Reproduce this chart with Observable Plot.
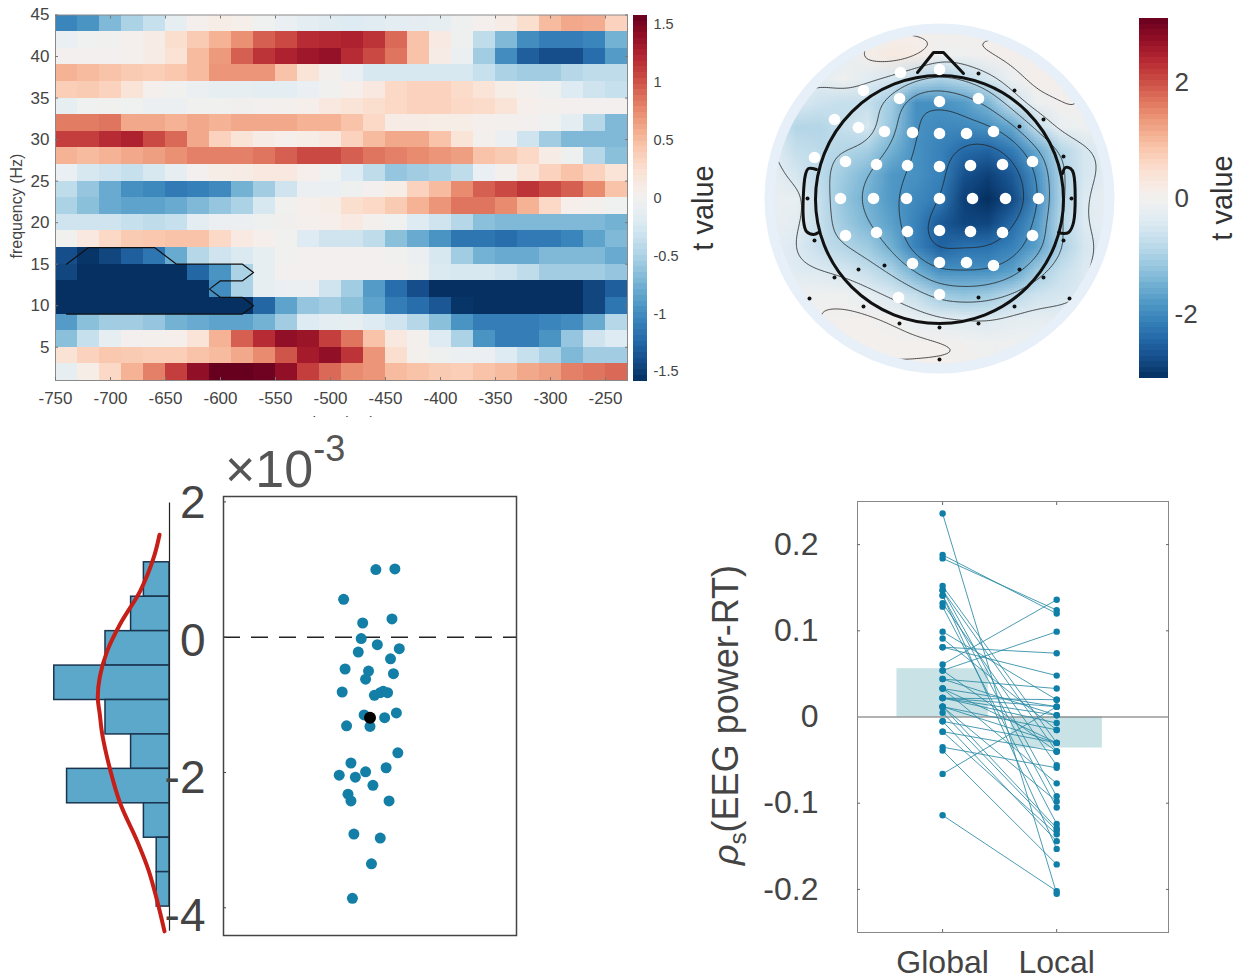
<!DOCTYPE html>
<html><head><meta charset="utf-8">
<script src="https://cdn.jsdelivr.net/npm/d3@7"></script>
<script src="https://cdn.jsdelivr.net/npm/@observablehq/plot@0.6"></script>
<style>
html,body{margin:0;background:#fff}
#page{position:relative;width:1241px;height:980px;overflow:hidden;font-family:"Liberation Sans",Arial,sans-serif;color:#444}
#page svg{position:absolute;background:transparent;overflow:visible}
.t{position:absolute;white-space:nowrap;line-height:1}
</style></head><body><div id="page"></div>
<script>
// Panel A: time-frequency t values. Rows run from 44 Hz (top) to 2 Hz (bottom), columns from -750 ms in 20 ms steps.
const timeStep = 20, freqStep = 2, timeStart = -750;
const freqRows = [44,42,40,38,36,34,32,30,28,26,24,22,20,18,16,14,12,10,8,6,4,2];
const heat = [
[-1.05,-.95,-.7,-.5,-.35,-.12,.03,.08,.06,-.03,-.1,-.15,-.18,-.2,-.17,-.15,-.14,-.13,-.05,.03,.1,.25,.5,.6,.58,.35],
[-.1,-.03,-.02,.03,.1,.25,.4,.55,.72,.95,1.05,1.2,1.22,1.25,1.15,.9,.45,.12,-.05,-.4,-.7,-1,-1.1,-1.1,-1.05,-.75],
[0,0,0,.02,.1,.22,.5,.68,.95,1.15,1.25,1.33,1.38,1.2,1.05,.85,.45,.1,-.08,-.55,-1,-1.3,-1.4,-1.4,-1.2,-.9],
[.55,.5,.45,.4,.38,.42,.5,.7,.7,.7,.45,.2,.02,-.1,-.25,-.25,-.25,-.25,-.25,-.35,-.5,-.55,-.55,-.45,-.4,-.4],
[.38,.4,.35,.2,.03,-.02,-.08,-.12,-.12,-.15,-.15,-.1,-.02,.05,.15,.3,.35,.35,.28,.2,.08,.02,-.05,-.2,-.3,-.35],
[-.12,-.03,-.02,-.03,-.07,-.08,-.02,-.02,-.01,0,.02,.05,.15,.2,.25,.3,.35,.35,.3,.28,.2,.05,.02,0,0,0],
[.82,.82,.85,.6,.6,.55,.6,.55,.6,.6,.6,.55,.55,.45,.3,.1,.1,.08,.08,.03,.01,0,-.03,-.15,-.45,-.7],
[1.1,1.1,1.2,1.25,1.05,.9,.6,.35,.2,.1,.05,.08,.15,.35,.5,.6,.6,.45,.2,.02,-.08,-.3,-.55,-.7,-.7,-.7],
[.55,.5,.55,.6,.65,.72,.8,.8,.8,.85,.95,1.05,1.05,.95,.85,.8,.75,.7,.65,.45,.4,.3,.1,-.05,-.45,-.65],
[-.1,-.25,-.3,-.35,-.25,-.12,0,.08,.1,.15,.15,.05,-.03,-.2,-.4,-.6,-.55,-.5,-.4,-.1,.02,.2,.35,.45,.35,.2],
[-.4,-.6,-.8,-.98,-1.03,-1.12,-1.08,-1.02,-.75,-.55,-.3,-.08,-.1,-.05,0,.08,.35,.5,.75,.95,1.05,1.15,1.05,.95,.75,.45],
[-.5,-.65,-.8,-.85,-.85,-.8,-.7,-.6,-.5,-.25,-.02,.05,.08,.25,.3,.4,.55,.7,.85,.85,.75,.55,.3,.05,.02,-.03],
[-.3,-.3,-.3,-.35,-.4,-.35,-.15,-.08,-.07,-.05,-.01,.03,.05,.12,.02,-.03,-.2,-.3,-.45,-.65,-.7,-.7,-.7,-.7,-.7,-.75],
[-.02,.15,.3,.4,.42,.45,.45,.3,.12,.05,-.02,-.2,-.3,-.3,-.4,-.65,-.8,-.95,-1.15,-1.15,-1.2,-1.12,-1.12,-1.05,-.85,-.7],
[-1.4,-1.55,-1.45,-1.3,-1.15,-.8,-.45,-.3,-.22,-.12,-.02,0,0,0,0,-.02,-.08,-.25,-.55,-.75,-.8,-.8,-.7,-.7,-.7,-.8],
[-1.45,-1.58,-1.58,-1.58,-1.58,-1.58,-1.25,-.95,-.5,-.12,0,0,0,0,0,0,-.05,-.22,-.25,-.25,-.3,-.4,-.55,-.55,-.55,-.6],
[-1.58,-1.58,-1.58,-1.58,-1.58,-1.58,-1.58,-1,-.5,-.12,-.08,-.08,-.3,-.55,-.9,-1.2,-1.4,-1.58,-1.58,-1.58,-1.58,-1.58,-1.58,-1.58,-1.45,-1.3],
[-1.58,-1.58,-1.58,-1.58,-1.58,-1.58,-1.58,-1.58,-1.58,-1.25,-.85,-.6,-.55,-.65,-.85,-1.1,-1.2,-1.35,-1.55,-1.58,-1.58,-1.58,-1.58,-1.58,-1.45,-1.15],
[-.9,-.65,-.55,-.55,-.6,-.75,-.8,-.85,-.85,-.75,-.55,-.2,-.15,-.13,-.2,-.3,-.45,-.65,-.95,-1.1,-1.1,-1.1,-1.05,-1,-.8,-.45],
[-.65,-.35,-.12,0,.02,.05,.2,.55,.95,1.2,1.4,1.35,1.1,.85,.45,.15,.02,-.2,-.5,-.95,-1.1,-1.1,-.95,-.6,-.3,-.2],
[.22,.35,.42,.4,.38,.38,.45,.5,.6,.75,1,1.3,1.4,1.15,.7,.25,.02,-.05,-.07,-.08,-.2,-.35,-.5,-.7,-.55,-.55],
[-.12,.08,.3,.55,.8,1.1,1.4,1.58,1.58,1.55,1.4,1.1,.9,.75,.7,.5,.45,.4,.38,.45,.5,.6,.65,.8,.85,.9]
];
const clusterTime = [-740,-720,-660,-640,-580,-570,-580,-600,-610,-600,-580,-570,-580,-740];
const clusterFreq = [15,17,17,15,15,14,13,13,12,11,11,10,9,9];

// Panel B: scalp map of t values, on a 15 x 15 grid, top row first.
const scalpGrid = [
-.3,-.3,-.3,-.3,-.2,0,.05,0,.02,.05,.05,-.1,-.3,-.3,-.3,
-.3,-.3,-.3,-.3,.1,.25,.2,-.1,-.1,0,.08,.05,-.2,-.3,-.3,
-.3,-.3,-.3,-.05,-.35,-.5,-.8,-1,-.8,-.5,-.15,.1,.05,-.2,-.3,
-.3,-.4,-.6,-.7,-.7,-1.1,-1.9,-1.9,-1.75,-1.4,-.6,-.15,0,0,-.2,
-.35,-.9,-.9,-.7,-.5,-1.2,-1.9,-2,-2,-1.9,-1.6,-.7,-.2,-.1,-.3,
-.3,-.7,-.8,-.9,-1.05,-1.5,-1.9,-2.1,-2.4,-2.5,-2.2,-1.6,-.9,-.5,-.3,
-.2,-.5,-.8,-1.1,-1.4,-1.8,-1.9,-2.1,-2.7,-2.9,-2.6,-1.9,-1,-.5,-.3,
-.2,-.2,-.7,-1.2,-1.5,-1.8,-2,-2.2,-2.9,-3.1,-2.8,-2,-1,-.4,-.2,
-.2,-.3,-.7,-1.1,-1.4,-1.7,-2.1,-2.6,-2.85,-2.85,-2.4,-1.8,-.9,-.4,-.2,
-.25,-.4,-.7,-.9,-1.1,-1.5,-2.1,-2.5,-2.3,-2.3,-2.1,-1.7,-1,-.5,-.3,
-.3,-.35,-.4,-.5,-.7,-1,-1.5,-1.9,-1.9,-1.9,-1.7,-1.1,-.7,-.4,-.3,
-.3,-.1,-.1,-.1,-.25,-.45,-.7,-1.1,-1.2,-1.1,-.85,-.6,-.5,-.4,-.3,
-.3,-.2,0,0,.02,-.05,-.2,-.3,-.35,-.4,-.3,-.25,-.3,-.3,-.3,
-.3,-.3,-.1,.05,.05,.05,.02,0,-.05,-.1,-.1,-.1,-.2,-.3,-.3,
-.3,-.3,-.3,-.3,-.05,.05,.05,.03,0,-.05,-.2,-.3,-.3,-.3,-.3
];
const scalpContours = [-2.3,-1.85,-1.4,-.9,-.4,-.05];
const sigElectrodes = [[-3.9,12.6],[0,12.9],[-7.6,10.8],[-4,10],[0,9.7],[3.9,10],[-10.5,7.9],[-8.1,7.1],[-5.5,6.7],[-2.7,6.6],[0,6.5],[2.7,6.5],[5.4,6.7],[-12.5,4.1],[-9.4,3.7],[-6.3,3.4],[-3.2,3.3],[0,3.2],[3.1,3.3],[6.3,3.4],[9.3,3.7],[-9.9,0],[-6.6,0],[-3.3,0],[0,0],[3.3,0],[6.6,0],[9.9,0],[-9.4,-3.7],[-6.3,-3.4],[-3.2,-3.3],[0,-3.2],[3.1,-3.3],[6.3,-3.4],[9.3,-3.7],[-2.7,-6.5],[0,-6.4],[2.7,-6.4],[5.4,-6.7],[-4.1,-9.9],[0,-9.6]];
const otherElectrodes = [[3.9,12.5],[7.5,10.8],[10.4,7.9],[8,7.2],[12.4,4.2],[-13.2,0],[13.2,0],[-12.5,-4.2],[12.4,-4.2],[-8.1,-7.1],[-5.5,-6.7],[8,-7.1],[-10.5,-7.9],[10.4,-7.9],[-13,-10],[-7.6,-10.8],[3.9,-9.9],[7.5,-10.8],[13,-10],[-4,-12.5],[0,-12.9],[3.9,-12.5],[0,-16.1]];
const nose = [[-2.2,12.6],[-.6,14.6],[.4,14.6],[2.4,12.5]];
const earLeft = [[-12.3,2.9],[-13.1,3],[-13.4,2.4],[-13.6,-2.2],[-13.3,-3.3],[-12.6,-3.6],[-12.1,-3.4]];
const earRight = [[12.3,2.5],[12.6,3.1],[13.1,3],[13.4,2.5],[13.4,-2.4],[12.9,-3.4],[12.4,-3.5],[11.9,-3.4]];

// Panel C: histogram (x 1e-3) and subject points.
const histEdges = [1.17,.67,.17,-.33,-.83,-1.33,-1.83,-2.33,-2.83,-3.33,-3.83];
const histCounts = [2,3,5,9,5,3,8,2,1,1];
const fitCount = [.78,1.23,2.27,3.83,4.87,5.45,5.6,5.45,5.26,4.61,3.83,2.52,1.62,.96,.39];
const fitValue = [1.57,1.24,.76,.28,-.12,-.5,-.8,-1.03,-1.32,-1.86,-2.34,-2.88,-3.31,-3.75,-4.19];
const histLabels = [2,0,-2,-4];
const subjectJitter = [.04,.17,-.18,.15,-.05,-.06,.05,.2,-.08,.14,-.17,-.01,.16,-.03,-.19,.03,.07,.09,.12,.18,-.04,.1,0,-.16,.19,-.13,.11,-.21,-.1,-.03,.02,-.15,-.13,.13,-.11,.07,.01,-.12];
const subjectValue = [1,1.01,.56,.27,.21,-.02,-.11,-.17,-.22,-.32,-.47,-.5,-.54,-.62,-.81,-.86,-.82,-.8,-.82,-1.12,-1.15,-1.19,-1.32,-1.31,-1.71,-1.86,-1.93,-2.04,-2.07,-1.99,-2.19,-2.32,-2.42,-2.42,-2.91,-2.97,-3.35,-3.86];
const meanValue = -1.19;

// Panel D: paired correlations.
const conditions = ["Global","Local"];
const meanRho = [.056,-.036];
const rhoGlobal = [.236,.188,.184,.152,.147,.147,.141,.141,.132,.128,.099,.091,.081,.081,.061,.054,.054,.044,.044,.033,.033,.033,.022,.022,.022,.022,.012,.012,.012,.012,.005,-.005,-.005,-.017,-.017,-.035,-.039,-.066,-.114];
const rhoLocal = [-.205,.12,.124,-.03,-.092,-.04,-.105,-.153,-.056,-.124,.02,-.015,.074,.048,.136,.099,-.04,.002,.033,-.03,-.077,.012,.02,.012,.002,-.007,-.03,-.015,-.098,-.129,-.132,-.144,-.03,-.04,-.136,-.059,-.171,.012,-.202];

const page = document.getElementById("page");
const FONT = "Liberation Sans";
const INK = "#444";
function place(svg, left, top){ svg.style.left = left+"px"; svg.style.top = top+"px"; page.appendChild(svg); return svg; }
function note(html, left, top, css){ const d=document.createElement("div"); d.className="t"; d.innerHTML=html; d.style.cssText=`left:${left}px;top:${top}px;`+css; page.appendChild(d); return d; }
function colorbar(left, top, w, h, lim, ticks, fontSize, fmt){
  const n=64, step=2*lim/n, levels=d3.range(n).map(i=>-lim+i*step);
  return place(Plot.plot({width:w+50,height:h+10,marginLeft:0,marginRight:50,marginTop:5,marginBottom:5,
    style:{fontFamily:FONT},
    x:{domain:[0,1],axis:null},
    y:{domain:[-lim,lim],axis:null},
    color:{type:"linear",scheme:"RdBu",reverse:true,domain:[-lim,lim]},
    marks:[
      Plot.rect(levels,{x1:()=>0,x2:()=>1,y1:d=>d,y2:d=>d+step,fill:d=>d+step/2,shapeRendering:"crispEdges"}),
      Plot.axisY({anchor:"right",ticks,tickSize:0,tickPadding:6,fontSize,color:INK,label:null,tickFormat:fmt})
    ]}), left, top-5);
}

// ---- Panel A
const heatCells = heat.flatMap((row,r)=>row.map((v,c)=>({t:timeStart+c*timeStep,f:freqRows[r],v})));
place(Plot.plot({width:640,height:417,marginLeft:55,marginRight:13,marginTop:14.5,marginBottom:37,
  style:{fontFamily:FONT},
  x:{domain:[-750,-230]},y:{domain:[1,45]},
  color:{type:"linear",scheme:"RdBu",reverse:true,domain:[-1.58,1.58]},
  marks:[
    Plot.rect(heatCells,{x1:d=>d.t,x2:d=>d.t+timeStep,y1:d=>d.f-freqStep/2,y2:d=>d.f+freqStep/2,fill:"v",shapeRendering:"crispEdges"}),
    Plot.line(clusterTime.map((t,i)=>[t,clusterFreq[i]]),{x:d=>d[0],y:d=>d[1],stroke:"#111",strokeWidth:1.2}),
    Plot.frame({stroke:"#8a8a8a"}),
    Plot.axisX({ticks:d3.range(-750,-249,50),tickSize:-3,tickPadding:14,fontSize:17,color:INK,label:null,tickFormat:d=>String(d),stroke:"#777"}),
    Plot.axisX({anchor:"top",ticks:d3.range(-700,-249,50),tickSize:-3,tickFormat:()=>"",label:null,stroke:"#777"}),
    Plot.axisY({ticks:d3.range(5,46,5),tickSize:-3,tickPadding:9,fontSize:17,color:INK,label:null,stroke:"#777"}),
    Plot.axisY({anchor:"right",ticks:d3.range(5,46,5),tickSize:-3,tickFormat:()=>"",label:null,stroke:"#777"}),
    Plot.text(["time (ms)"],{x:()=>-490,y:()=>1,dy:42,fontSize:16,fill:INK}),
    Plot.text(["frequency (Hz)"],{x:()=>-750,y:()=>22,dx:-39,rotate:-90,fontSize:16,fill:INK})
  ]}),0,0);
note("",290,417,"width:110px;height:18px;background:#fff");
colorbar(633,14.5,14,365.5,1.58,[-1.5,-1,-.5,0,.5,1,1.5],14.5,d=>String(d));
note("t value",703,208,`font-size:29px;transform:translate(-50%,-50%) rotate(-90deg);color:#333`);

// ---- Panel B
const scalpPoints = scalpGrid.map((v,i)=>({x:-16.8+2.4*(i%15),y:16.8-2.4*Math.floor(i/15),v}));
const scalp = Plot.plot({width:360,height:360,margin:0,
  style:{fontFamily:FONT},
  x:{domain:[-18,18],axis:null},y:{domain:[-18,18],axis:null},
  color:{type:"linear",scheme:"RdBu",reverse:true,domain:[-3.1,3.1]},
  marks:[
    Plot.dot([[0,0]],{x:d=>d[0],y:d=>d[1],r:175,fill:"#e7f0f8"}),
    Plot.raster(scalpGrid,{width:15,height:15,x1:-18,x2:18,y1:18,y2:-18,imageRendering:"auto",ariaLabel:"field"}),
    Plot.contour(scalpPoints,{x:"x",y:"y",value:"v",interpolate:"barycentric",pixelSize:2,blur:5,thresholds:scalpContours,fill:"none",stroke:"#222",strokeWidth:.8,ariaLabel:"isolines"}),
    Plot.dot([[0,-.1]],{x:d=>d[0],y:d=>d[1],r:124,fill:"none",stroke:"#111",strokeWidth:3}),
    Plot.line(nose,{x:d=>d[0],y:d=>d[1],stroke:"#111",strokeWidth:3}),
    Plot.line(earLeft,{x:d=>d[0],y:d=>d[1],stroke:"#111",strokeWidth:3,curve:"catmull-rom"}),
    Plot.line(earRight,{x:d=>d[0],y:d=>d[1],stroke:"#111",strokeWidth:3,curve:"catmull-rom"}),
    Plot.dot(otherElectrodes,{x:d=>d[0],y:d=>d[1],r:2,fill:"#111"}),
    Plot.dot(sigElectrodes,{x:d=>d[0],y:d=>d[1],r:5.8,fill:"#fff"})
  ]});
const ns="http://www.w3.org/2000/svg";
const defs=document.createElementNS(ns,"defs"), cp=document.createElementNS(ns,"clipPath"), cc=document.createElementNS(ns,"circle");
cp.setAttribute("id","disc"); cc.setAttribute("cx",180); cc.setAttribute("cy",180); cc.setAttribute("r",165);
cp.appendChild(cc); defs.appendChild(cp); scalp.prepend(defs);
scalp.querySelectorAll('image').forEach(e=>e.parentNode.setAttribute("clip-path","url(#disc)"));
scalp.querySelectorAll('g[aria-label="contour"],g[aria-label="isolines"]').forEach(e=>e.setAttribute("clip-path","url(#disc)"));
place(scalp,759,18);
colorbar(1139,18,29,360,3.1,[-2,0,2],26,d=>String(d));
note("t value",1222,198,`font-size:29px;transform:translate(-50%,-50%) rotate(-90deg);color:#333`);

// ---- Panel C: histogram
const bins = histCounts.map((c,i)=>({c,y1:histEdges[i],y2:histEdges[i+1]}));
place(Plot.plot({width:175,height:440,margin:0,marginRight:6,
  style:{fontFamily:FONT},
  x:{domain:[13.2,0],axis:null},y:{domain:[-4.25,2.14],axis:null},
  marks:[
    Plot.rect(bins,{x1:()=>0,x2:"c",y1:"y1",y2:"y2",fill:"#5ba8ca",stroke:"#1b3550",strokeWidth:1.5}),
    Plot.ruleX([0],{y1:-4.19,y2:2.03,stroke:"#222",strokeWidth:1.2}),
    Plot.line(fitCount.map((c,i)=>[c,fitValue[i]]),{x:d=>d[0],y:d=>d[1],stroke:"#c51f18",strokeWidth:4,curve:"catmull-rom"}),
    Plot.text(histLabels,{x:()=>0,y:d=>d,dx:36,dy:-2,textAnchor:"end",fontSize:46,fill:INK,text:d=>String(d)})
  ]}),0,495);

// ---- Panel C: points
const pts = subjectValue.map((v,i)=>[subjectJitter[i],v]);
place(Plot.plot({width:295,height:441,margin:1,
  style:{fontFamily:FONT},
  x:{domain:[-1,1],axis:null},y:{domain:[-4.41,2.08],axis:null},
  marks:[
    Plot.ruleY([0],{stroke:"#222",strokeWidth:1.5,strokeDasharray:"17 11"}),
    Plot.dot(pts,{x:d=>d[0],y:d=>d[1],r:5.5,fill:"#147fa6"}),
    Plot.dot([[0,meanValue]],{x:d=>d[0],y:d=>d[1],r:6,fill:"#000"}),
    Plot.frame({stroke:"#444",strokeWidth:1.5}),
    Plot.axisY({ticks:histLabels,tickSize:-3,tickFormat:()=>"",label:null,stroke:"#444"})
  ]}),222,495);
note('×10<span style="font-size:36px;position:relative;top:-26px">-3</span>',225,443,"font-size:52px;color:#555");

// ---- Panel D
place(Plot.plot({width:313,height:478,marginLeft:1,marginRight:1,marginTop:1,marginBottom:46,
  style:{fontFamily:FONT},
  x:{domain:[.254,2.98],axis:null},y:{domain:[-.25,.25],axis:null},
  marks:[
    Plot.rect(meanRho,{x1:(d,i)=>i+.6,x2:(d,i)=>i+1.4,y1:()=>0,y2:d=>d,fill:"#c9e2e5"}),
    Plot.ruleY([0],{stroke:"#666",strokeWidth:1.2}),
    Plot.link(rhoGlobal.map((g,i)=>[g,rhoLocal[i]]),{x1:()=>1,x2:()=>2,y1:d=>d[0],y2:d=>d[1],stroke:"#2c8ba6",strokeWidth:1,strokeOpacity:.85}),
    Plot.dot(rhoGlobal,{x:()=>1,y:d=>d,r:3.2,fill:"#0f7fa8"}),
    Plot.dot(rhoLocal,{x:()=>2,y:d=>d,r:3.2,fill:"#0f7fa8"}),
    Plot.frame({stroke:"#888",strokeWidth:1}),
    Plot.text(conditions,{x:(d,i)=>i+1,y:()=>-.25,dy:30,fontSize:32,fill:INK}),
    Plot.axisX({anchor:"top",ticks:[1,2],tickSize:-3,tickFormat:()=>"",label:null,stroke:"#666"}),
    Plot.axisX({anchor:"bottom",ticks:[1,2],tickSize:-3,tickFormat:()=>"",label:null,stroke:"#666"}),
    Plot.axisY({ticks:[-.2,-.1,.1,.2],tickSize:-3,tickFormat:()=>"",label:null,stroke:"#666"}),
    Plot.axisY({anchor:"right",ticks:[-.2,-.1,.1,.2],tickSize:-3,tickFormat:()=>"",label:null,stroke:"#666"}),
    Plot.text([-.2,-.1,0,.1,.2],{x:()=>.254,y:d=>d,dx:-39,textAnchor:"end",fontSize:32,fill:INK,text:d=>d===0?"0":String(d)})
  ]}),856,500);
note('<i>ρ</i><sub style="font-size:24px;line-height:0">s</sub>(EEG power-RT)',726,715,"font-size:36px;transform:translate(-50%,-50%) rotate(-90deg);color:#444");
</script></body></html>
